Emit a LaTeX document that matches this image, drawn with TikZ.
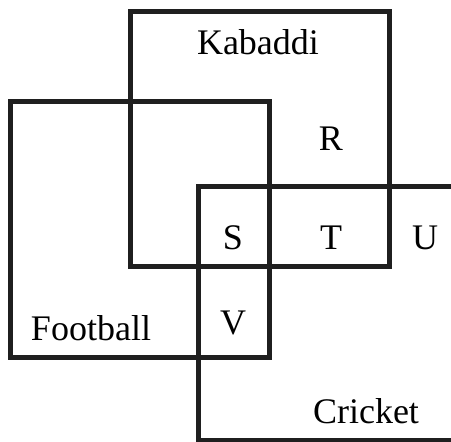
\documentclass[tikz,border=0pt]{standalone}
\usepackage{fontspec}
\setmainfont{Liberation Serif}
\begin{document}
\begin{tikzpicture}[x=1pt,y=-1pt,
  set/.style={line width=5pt,draw=black!88},
  lbl/.style={font=\fontsize{36}{40}\selectfont,inner sep=0pt,text height=0.7em,text depth=0pt}]
\useasboundingbox (0,0) rectangle (451,442);
% the three sets
\draw [set] (130,11) rectangle (389,266);
\draw [set] (10,101) rectangle (269,357);
\draw [set] (451,186) -- (198,186) -- (198,440) -- (451,440);
% labels
\node [lbl] (kabaddi) at (258,51) {Kabaddi};
\node [lbl] (football) at (91,337) {Football};
\node [lbl] (cricket) at (366,420) {Cricket};
\node [lbl] (r) at (331,147) {R};
\node [lbl] (s) at (233,246) {S};
\node [lbl] (t) at (331,246) {T};
\node [lbl] (u) at (425,246) {U};
\node [lbl] (v) at (233,331) {V};
\end{tikzpicture}
\end{document}
